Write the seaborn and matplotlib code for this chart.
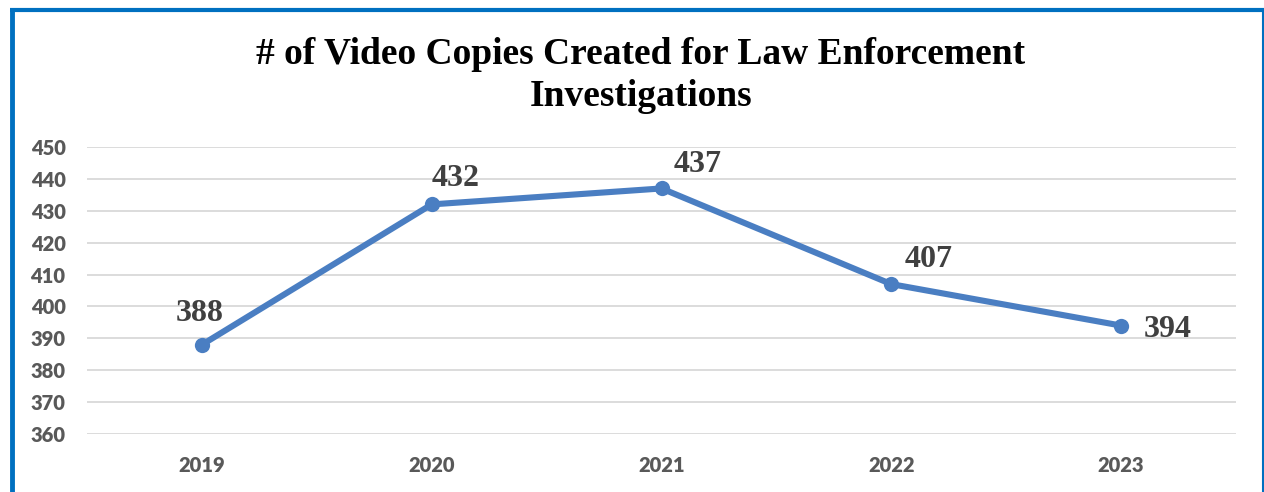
import matplotlib
matplotlib.use("Agg")
import matplotlib.pyplot as plt
import seaborn as sns
import pandas as pd
from matplotlib.lines import Line2D

years = ["2019", "2020", "2021", "2022", "2023"]
copies = [388, 432, 437, 407, 394]
yticks = [360, 370, 380, 390, 400, 410, 420, 430, 440, 450]
title_lines = ["# of Video Copies Created for Law Enforcement", "Investigations"]

sns.set_theme(style="white")
plt.rcParams['font.family'] = ['Lato', 'DejaVu Sans']

df = pd.DataFrame({"year": years, "copies": copies})

fig = plt.figure(figsize=(12.64, 4.92), dpi=100)
ax = fig.add_axes([87/1264, 1 - 434/492, (1236-87)/1264, (434-147)/492])

sns.lineplot(data=df, x="year", y="copies", ax=ax, color="#4A7EC2", linewidth=4.4,
             marker="o", markersize=11, markeredgewidth=0, sort=False)

ax.set_xlim(-0.5, len(years) - 0.5)
ax.set_ylim(yticks[0], yticks[-1])
ax.set_yticks(yticks)
ax.grid(axis="y", color="#D9D9D9", linewidth=1.3)
ax.set_axisbelow(True)
for s in ax.spines.values():
    s.set_visible(False)
ax.set_xlabel("")
ax.set_ylabel("")
ax.tick_params(axis="both", length=0, labelsize=14.5, labelcolor="#595959")
ax.tick_params(axis="y", pad=15.5)
ax.tick_params(axis="x", pad=16)
for lbl in ax.get_xticklabels() + ax.get_yticklabels():
    lbl.set_fontweight("heavy")

# offsets in points relative to the point, baseline anchored
offsets = [(-1.4, 17.3), (17.3, 13.0), (25.9, 11.5), (26.6, 12.2), (33.8, -7.9)]
for i, (v, off) in enumerate(zip(copies, offsets)):
    ax.annotate(str(v), (i, v), xytext=off, textcoords="offset points",
                ha="center", va="baseline",
                fontsize=23, fontweight="bold", color="#404040",
                family=["Liberation Serif", "DejaVu Serif"])

fig.text(0.507, 1 - 64/492, title_lines[0], ha="center", va="baseline", fontsize=27,
         fontweight="bold", color="black", family=["Liberation Serif", "DejaVu Serif"])
fig.text(0.507, 1 - 106/492, title_lines[1], ha="center", va="baseline", fontsize=27,
         fontweight="bold", color="black", family=["Liberation Serif", "DejaVu Serif"])

# border
c = "#0070C0"
fig.add_artist(Line2D([11.5/1264, 11.5/1264], [0, 1 - 8/492], color=c, linewidth=3.5,
                      solid_capstyle="butt", transform=fig.transFigure))
fig.add_artist(Line2D([9.5/1264, 1264/1264], [1 - 9.5/492, 1 - 9.5/492], color=c, linewidth=3,
                      solid_capstyle="butt", transform=fig.transFigure))
fig.add_artist(Line2D([1262.5/1264, 1262.5/1264], [0, 1 - 9/492], color=c, linewidth=1.5,
                      solid_capstyle="butt", transform=fig.transFigure))

fig.savefig("out.png", dpi=100)
